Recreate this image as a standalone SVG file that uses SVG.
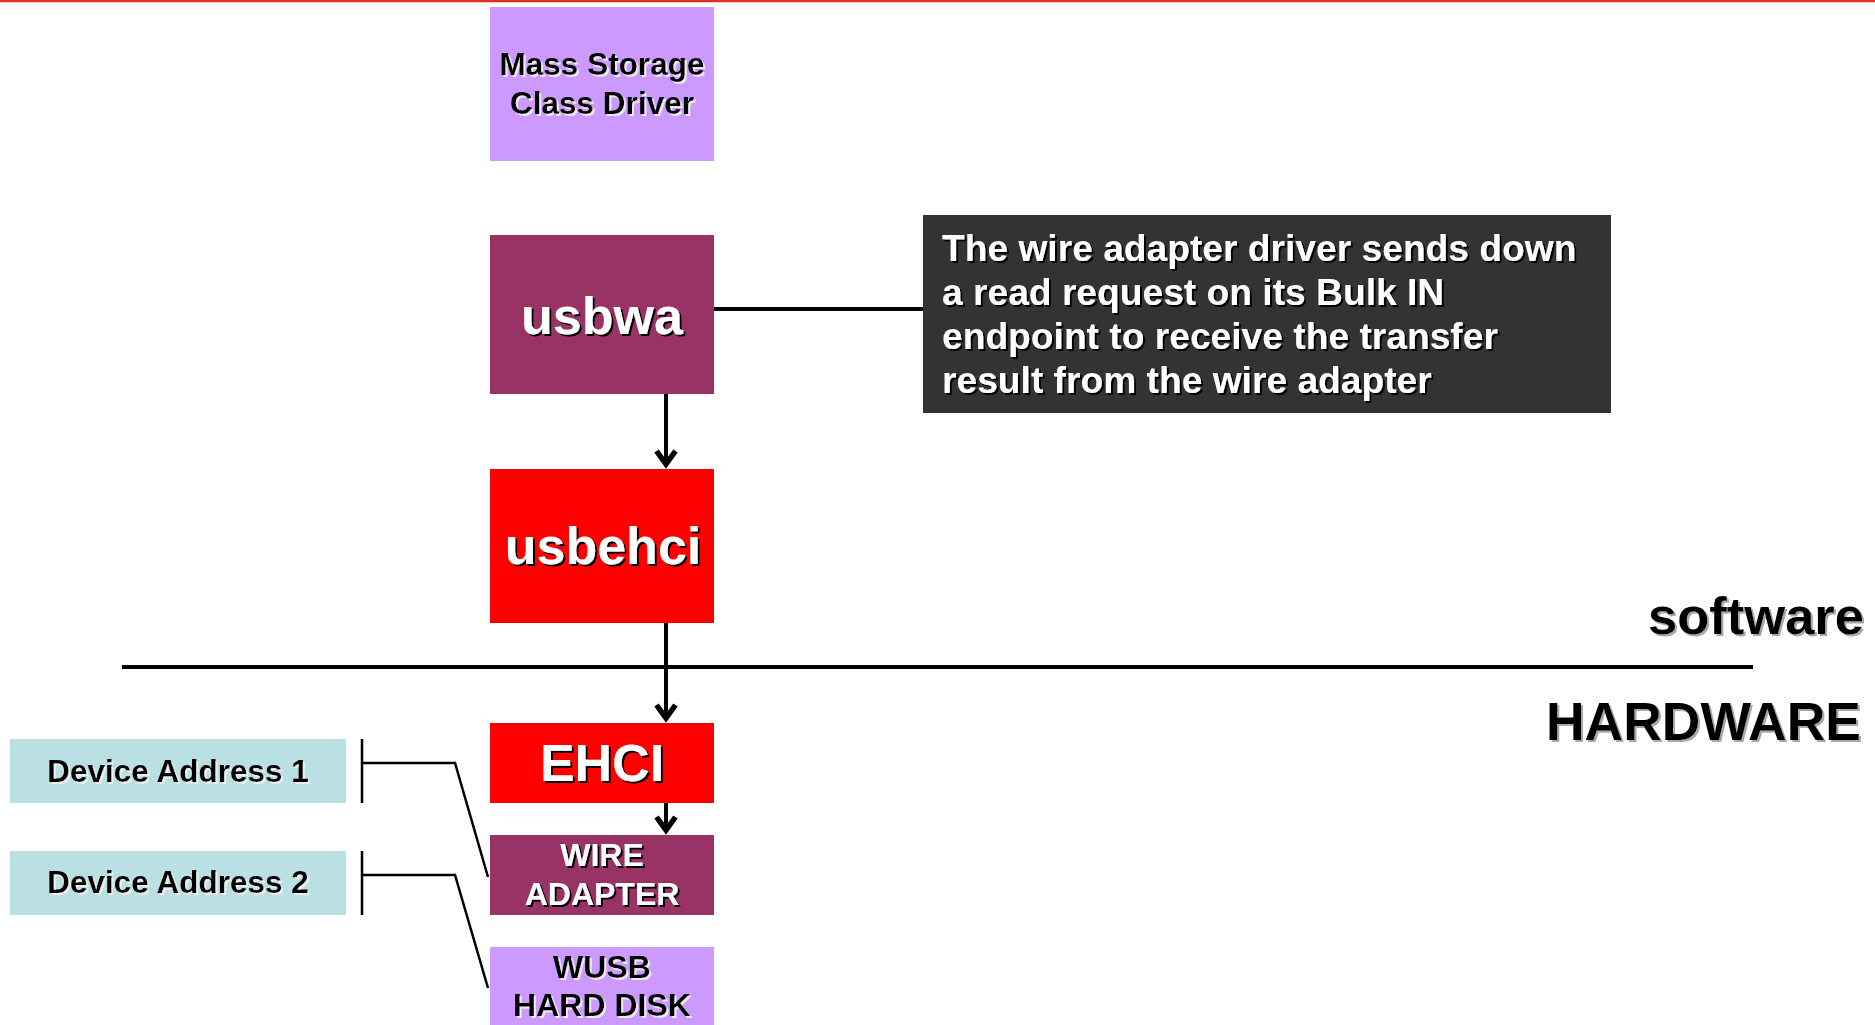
<svg xmlns="http://www.w3.org/2000/svg" width="1875" height="1025" viewBox="0 0 1875 1025">
  <style>
    text { font-family: "Liberation Sans", Arial, sans-serif; font-weight: bold; }
    .w { fill: #ffffff; filter: url(#shDark); }
    .k { fill: #000000; filter: url(#shLight); }
    .kw { fill: #000000; filter: url(#shGray); }
    .c { text-anchor: middle; }
    .conn { stroke: #000000; stroke-width: 4; fill: none; }
    .thin { stroke: #000000; stroke-width: 2.5; fill: none; stroke-linejoin: miter; }
  </style>
  <defs>
    <filter id="shDark" x="-10%" y="-20%" width="130%" height="160%">
      <feDropShadow dx="2" dy="2" stdDeviation="0.4" flood-color="#000000" flood-opacity="1"/>
    </filter>
    <filter id="shLight" x="-10%" y="-20%" width="130%" height="160%">
      <feDropShadow dx="2" dy="2" stdDeviation="0.4" flood-color="#f0f0f0" flood-opacity="0.9"/>
    </filter>
    <filter id="shGray" x="-10%" y="-20%" width="130%" height="160%">
      <feDropShadow dx="2" dy="2" stdDeviation="0.5" flood-color="#a8a8a8" flood-opacity="1"/>
    </filter>
    <marker id="arr" markerUnits="userSpaceOnUse" viewBox="-20 -14 28 28" markerWidth="28" markerHeight="28" refX="0" refY="0" orient="auto">
      <path d="M-13,-9.5 L0,0 L-13,9.5" fill="none" stroke="#000000" stroke-width="5.5" stroke-linejoin="miter" stroke-miterlimit="10"/>
    </marker>
  </defs>

  <rect width="1875" height="1025" fill="#ffffff"/>
  <line x1="0" y1="1" x2="1875" y2="1" stroke="#e03020" stroke-width="2.5"/>

  <g id="connectors">
    <line class="conn" x1="714" y1="309" x2="923" y2="309"/>
    <line class="conn" x1="666" y1="394" x2="666" y2="464" marker-end="url(#arr)"/>
    <line class="conn" x1="666" y1="623" x2="666" y2="718" marker-end="url(#arr)"/>
    <line class="conn" x1="666" y1="803" x2="666" y2="830" marker-end="url(#arr)"/>
    <line class="thin" x1="362" y1="739" x2="362" y2="803"/>
    <polyline class="thin" points="362,763 455,763 488,877"/>
    <line class="thin" x1="362" y1="851" x2="362" y2="915"/>
    <polyline class="thin" points="362,875 455,875 488,988"/>
  </g>

  <g id="separator">
    <line x1="122" y1="667" x2="1753" y2="667" stroke="#000000" stroke-width="4"/>
    <text class="kw" x="1864" y="634" font-size="52.5" text-anchor="end">software</text>
    <text class="kw" x="1861" y="740" font-size="53.5" text-anchor="end">HARDWARE</text>
  </g>

  <g id="mass-storage">
    <rect x="490" y="7" width="224" height="154" fill="#cc99ff"/>
    <text class="k c" x="602" y="75" font-size="31.5">Mass Storage</text>
    <text class="k c" x="602" y="114" font-size="31.5">Class Driver</text>
  </g>

  <g id="usbwa">
    <rect x="490" y="235" width="224" height="159" fill="#993366"/>
    <text class="w c" x="602" y="334" font-size="52">usbwa</text>
  </g>

  <g id="note">
    <rect x="923" y="215" width="688" height="198" fill="#333333"/>
    <text class="w" x="942" y="261" font-size="37.2">The wire adapter driver sends down</text>
    <text class="w" x="942" y="305" font-size="37.2">a read request on its Bulk IN</text>
    <text class="w" x="942" y="349" font-size="37.2">endpoint to receive the transfer</text>
    <text class="w" x="942" y="393" font-size="37.2">result from the wire adapter</text>
  </g>

  <g id="usbehci">
    <rect x="490" y="469" width="224" height="154" fill="#ff0000"/>
    <text class="w c" x="603" y="564" font-size="52">usbehci</text>
  </g>

  <g id="ehci">
    <rect x="490" y="723" width="224" height="80" fill="#ff0000"/>
    <text class="w c" x="602" y="781" font-size="52">EHCI</text>
  </g>

  <g id="wire-adapter">
    <rect x="490" y="835" width="224" height="80" fill="#993366"/>
    <text class="w c" x="602" y="866" font-size="32">WIRE</text>
    <text class="w c" x="602" y="905" font-size="32">ADAPTER</text>
  </g>

  <g id="wusb-hard-disk">
    <rect x="490" y="947" width="224" height="80" fill="#cc99ff"/>
    <text class="k c" x="602" y="978" font-size="32">WUSB</text>
    <text class="k c" x="602" y="1016" font-size="32">HARD DISK</text>
  </g>

  <g id="device-address-1">
    <rect x="10" y="739" width="336" height="64" fill="#bbe0e3"/>
    <text class="k c" x="178" y="782" font-size="31.5">Device Address 1</text>
  </g>

  <g id="device-address-2">
    <rect x="10" y="851" width="336" height="64" fill="#bbe0e3"/>
    <text class="k c" x="178" y="893" font-size="31.5">Device Address 2</text>
  </g>
</svg>
